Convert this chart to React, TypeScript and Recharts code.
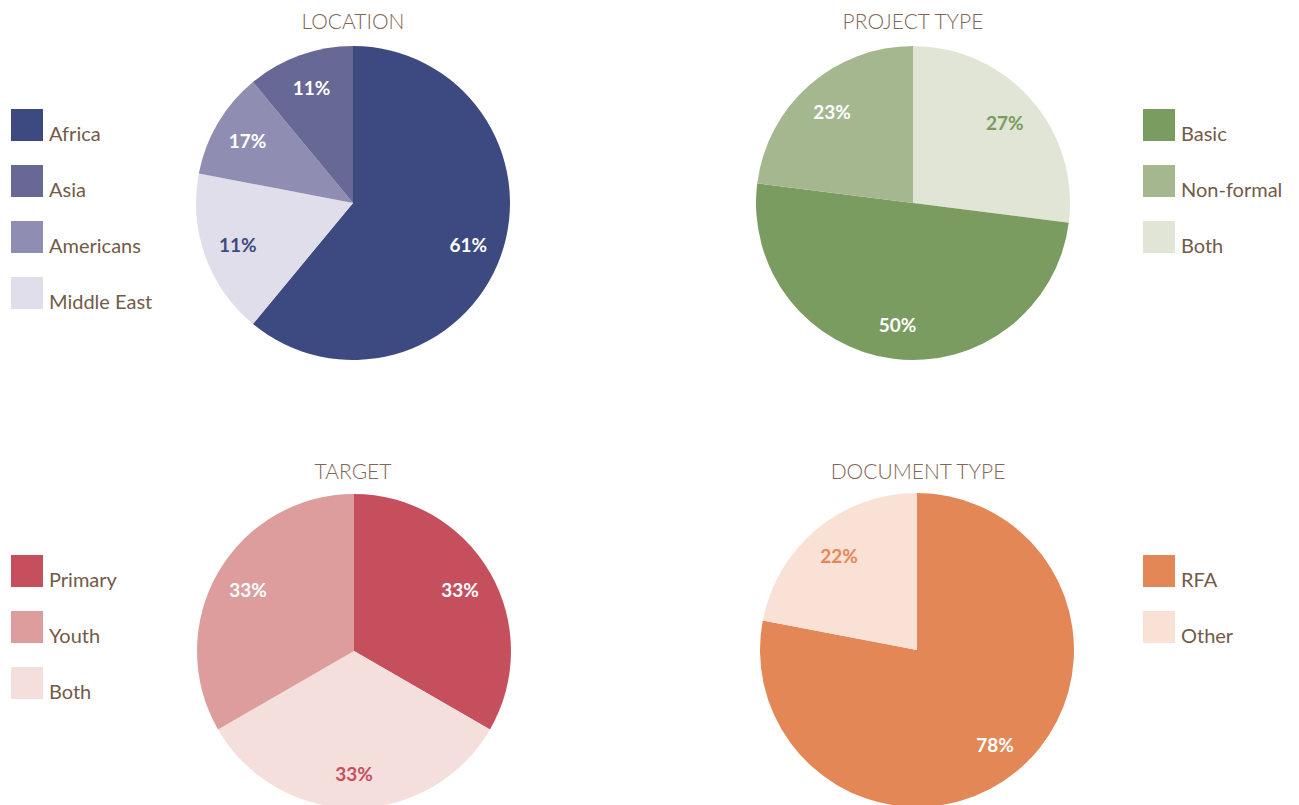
import React from 'react';
import { PieChart, Pie, Cell } from 'recharts';

// LOCATION (slice order clockwise from 12 o'clock)
const locationNames = ['Africa', 'Middle East', 'Americans', 'Asia'];
const locationValues = [61, 17, 11, 11];
const locationLabels = ['61%', '11%', '17%', '11%'];
const locationColors = ['#3d4a82', '#dfdeea', '#8f8db2', '#676896'];
const locationLabelColors = ['#ffffff', '#3d4a82', '#ffffff', '#ffffff'];
const locationLegend = ['Africa', 'Asia', 'Americans', 'Middle East'];
const locationLegendColors = ['#3d4a82', '#676896', '#8f8db2', '#dfdeea'];

// PROJECT TYPE
const projectNames = ['Both', 'Basic', 'Non-formal'];
const projectValues = [27, 50, 23];
const projectLabels = ['27%', '50%', '23%'];
const projectColors = ['#e0e5d6', '#7b9c60', '#a4b78f'];
const projectLabelColors = ['#7b9c60', '#ffffff', '#ffffff'];
const projectLegend = ['Basic', 'Non-formal', 'Both'];
const projectLegendColors = ['#7b9c60', '#a4b78f', '#e0e5d6'];

// TARGET
const targetNames = ['Primary', 'Both', 'Youth'];
const targetValues = [33, 33, 33];
const targetLabels = ['33%', '33%', '33%'];
const targetColors = ['#c64f5e', '#f4dfdd', '#dd9d9c'];
const targetLabelColors = ['#ffffff', '#c64f5e', '#ffffff'];
const targetLegend = ['Primary', 'Youth', 'Both'];
const targetLegendColors = ['#c64f5e', '#dd9d9c', '#f4dfdd'];

// DOCUMENT TYPE
const documentNames = ['RFA', 'Other'];
const documentValues = [78, 22];
const documentLabels = ['78%', '22%'];
const documentColors = ['#e48757', '#f9e2d5'];
const documentLabelColors = ['#ffffff', '#e48757'];
const documentLegend = ['RFA', 'Other'];
const documentLegendColors = ['#e48757', '#f9e2d5'];

const TITLE_COLOR = '#7f6657';
const LEGEND_COLOR = '#735a48';
const FONT = 'Lato, "Open Sans", sans-serif';
const RAD = Math.PI / 180;

function makeLabel(texts: string[], colors: string[]) {
  return (props: any) => {
    const { cx, cy, midAngle, outerRadius, index } = props;
    const r = outerRadius * 0.78;
    const x = cx + r * Math.cos(-midAngle * RAD);
    const y = cy + r * Math.sin(-midAngle * RAD);
    return (
      <text
        x={x}
        y={y}
        fill={colors[index]}
        textAnchor="middle"
        dominantBaseline="central"
        fontFamily={FONT}
        fontWeight={700}
        fontSize={19}
      >
        {texts[index]}
      </text>
    );
  };
}

type PieBlockProps = {
  names: string[];
  values: number[];
  labels: string[];
  colors: string[];
  labelColors: string[];
  left: number;
  top: number;
  width: number;
  height: number;
  cx: number;
  cy: number;
};

function PieBlock(p: PieBlockProps) {
  const data = p.names.map((n, i) => ({ name: n, value: p.values[i] }));
  return (
    <div style={{ position: 'absolute', left: p.left, top: p.top, width: p.width, height: p.height }}>
      <PieChart width={p.width} height={p.height} margin={{ top: 0, right: 0, bottom: 0, left: 0 }}>
        <Pie
          data={data}
          dataKey="value"
          nameKey="name"
          cx={p.cx}
          cy={p.cy}
          outerRadius={157}
          startAngle={90}
          endAngle={-270}
          stroke="none"
          isAnimationActive={false}
          labelLine={false}
          label={makeLabel(p.labels, p.labelColors)}
        >
          {data.map((d, i) => (
            <Cell key={d.name} fill={p.colors[i]} />
          ))}
        </Pie>
      </PieChart>
    </div>
  );
}

function Legend({ items, colors, x, y }: { items: string[]; colors: string[]; x: number; y: number }) {
  return (
    <g>
      {items.map((it, i) => (
        <g key={it}>
          <rect x={x} y={y + i * 56} width={32} height={32} fill={colors[i]} />
          <text x={x + 38} y={y + i * 56 + 32} fill={LEGEND_COLOR} fontFamily={FONT} fontSize={20}>
            {it}
          </text>
        </g>
      ))}
    </g>
  );
}

function Title({ text, x, y }: { text: string; x: number; y: number }) {
  return (
    <text x={x} y={y} textAnchor="middle" fill={TITLE_COLOR} fontFamily={FONT} fontWeight={300} fontSize={21}>
      {text}
    </text>
  );
}

export default function App() {
  return (
    <div
      style={{
        position: 'absolute',
        left: 0,
        top: 0,
        width: 1299,
        height: 805,
        overflow: 'hidden',
        background: '#ffffff',
      }}
    >
      <PieBlock
        names={locationNames}
        values={locationValues}
        labels={locationLabels}
        colors={locationColors}
        labelColors={locationLabelColors}
        left={0}
        top={0}
        width={650}
        height={450}
        cx={353}
        cy={203}
      />
      <PieBlock
        names={projectNames}
        values={projectValues}
        labels={projectLabels}
        colors={projectColors}
        labelColors={projectLabelColors}
        left={650}
        top={0}
        width={649}
        height={450}
        cx={263}
        cy={203}
      />
      <PieBlock
        names={targetNames}
        values={targetValues}
        labels={targetLabels}
        colors={targetColors}
        labelColors={targetLabelColors}
        left={0}
        top={450}
        width={650}
        height={360}
        cx={354}
        cy={201}
      />
      <PieBlock
        names={documentNames}
        values={documentValues}
        labels={documentLabels}
        colors={documentColors}
        labelColors={documentLabelColors}
        left={650}
        top={450}
        width={649}
        height={360}
        cx={267}
        cy={200}
      />
      <svg
        width={1299}
        height={805}
        style={{ position: 'absolute', left: 0, top: 0, pointerEvents: 'none' }}
      >
        <Title text="LOCATION" x={353} y={29} />
        <Title text="PROJECT TYPE" x={913} y={29} />
        <Title text="TARGET" x={353} y={479} />
        <Title text="DOCUMENT TYPE" x={918} y={479} />
        <Legend items={locationLegend} colors={locationLegendColors} x={11} y={109} />
        <Legend items={projectLegend} colors={projectLegendColors} x={1143} y={109} />
        <Legend items={targetLegend} colors={targetLegendColors} x={11} y={555} />
        <Legend items={documentLegend} colors={documentLegendColors} x={1143} y={555} />
      </svg>
    </div>
  );
}
